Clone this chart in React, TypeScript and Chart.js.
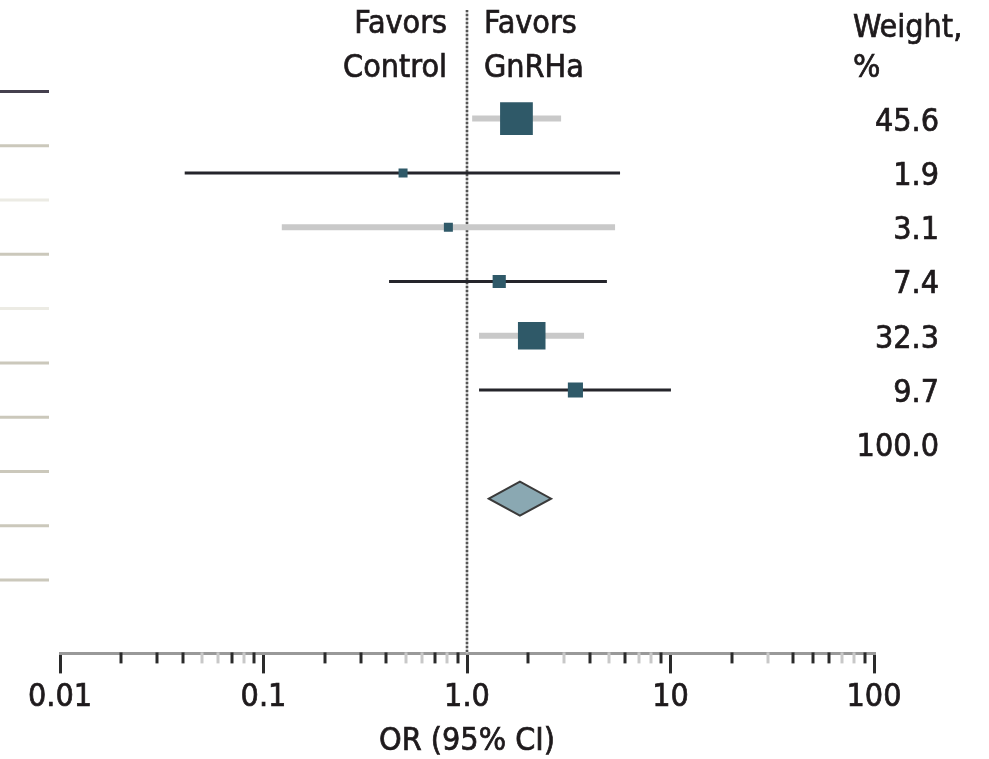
import React, { useEffect, useRef } from 'react';
import { Chart, registerables } from 'chart.js';
Chart.register(...registerables);

// ---- data ----
const oddsRatios = [1.75, 0.485, 0.81, 1.44, 2.08, 3.41];
const ciLower = [1.06, 0.041, 0.123, 0.414, 1.146, 1.146];
const ciUpper = [2.9, 5.65, 5.34, 4.87, 3.76, 10.05];
const weights = [45.6, 1.9, 3.1, 7.4, 32.3, 9.7];
const weightLabels = ['45.6', '1.9', '3.1', '7.4', '32.3', '9.7', '100.0'];
const pooledOR = [1.82];
const pooledLower = [1.28];
const pooledUpper = [2.59];
const majorTicks = [0.01, 0.1, 1, 10, 100];
const tickLabels = ['0.01', '0.1', '1.0', '10', '100'];
const separatorRows = [0.5, 1.5, 2.5, 3.5, 4.5, 5.5, 6.5, 7.5, 8.5, 9.5];
const faintMinor = [0.05, 0.06, 0.08, 0.5, 0.6, 0.8, 3, 5, 7, 8, 30, 70, 80];
const axisTitle = 'OR (95% CI)';

const FONT = '"DejaVu Sans Condensed", "DejaVu Sans", sans-serif';
const FS = 32;
const TEXT = '#1e1a1c';
const MARK = '#2f5968';
const STROKE = 0.7;

function drawText(ctx: CanvasRenderingContext2D, t: string, x: number, y: number) {
  ctx.fillText(t, x, y);
  ctx.strokeText(t, x, y);
}

const forestPlugin = {
  id: 'forest',
  beforeDatasetsDraw(chart: any) {
    const { ctx, chartArea, scales } = chart;
    const x = scales.x, y = scales.y;
    const x1 = x.getPixelForValue(1);
    ctx.save();
    ctx.lineWidth = 2.5;
    ctx.strokeStyle = '#c4c4c4';
    ctx.beginPath();
    ctx.moveTo(x1, chartArea.top);
    ctx.lineTo(x1, chartArea.bottom);
    ctx.stroke();
    ctx.strokeStyle = '#555';
    ctx.setLineDash([2, 2]);
    ctx.stroke();
    ctx.setLineDash([]);
    // left separators
    separatorRows.forEach((r, i) => {
      const py = y.getPixelForValue(r);
      ctx.strokeStyle = i === 0 ? '#45404e' : (i === 2 || i === 4) ? '#ecebe4' : '#cbc8bb';
      ctx.lineWidth = 3;
      ctx.beginPath();
      ctx.moveTo(0, py);
      ctx.lineTo(49, py);
      ctx.stroke();
    });
    ctx.restore();
  },
  afterDatasetsDraw(chart: any) {
    const { ctx, scales } = chart;
    const x = scales.x, y = scales.y;
    const py = y.getPixelForValue(8);
    const xl = x.getPixelForValue(pooledLower[0]);
    const xc = x.getPixelForValue(pooledOR[0]);
    const xr = x.getPixelForValue(pooledUpper[0]);
    const h = 17;
    ctx.save();
    ctx.beginPath();
    ctx.moveTo(xl, py);
    ctx.lineTo(xc, py - h);
    ctx.lineTo(xr, py);
    ctx.lineTo(xc, py + h);
    ctx.closePath();
    ctx.fillStyle = '#8aa8b2';
    ctx.fill();
    ctx.strokeStyle = '#3a3a3a';
    ctx.lineWidth = 2;
    ctx.stroke();
    ctx.restore();
  },
  afterDraw(chart: any) {
    const { ctx, chartArea, scales } = chart;
    const x = scales.x, y = scales.y;
    ctx.save();
    // minor ticks
    [0.01, 0.1, 1, 10].forEach((d) => {
      for (let k = 2; k <= 9; k++) {
        const v = +(d * k).toPrecision(3);
        const px = Math.round(x.getPixelForValue(v));
        ctx.strokeStyle = faintMinor.includes(v) ? '#c8c8c8' : '#2a2a2a';
        ctx.lineWidth = 3;
        ctx.beginPath();
        ctx.moveTo(px, chartArea.bottom - 1);
        ctx.lineTo(px, chartArea.bottom + 10);
        ctx.stroke();
      }
    });
    // texts
    ctx.fillStyle = TEXT;
    ctx.strokeStyle = TEXT;
    ctx.lineWidth = STROKE;
    ctx.font = `${FS}px ${FONT}`;
    ctx.textBaseline = 'alphabetic';
    const x1 = x.getPixelForValue(1);
    ctx.textAlign = 'right';
    drawText(ctx, 'Favors', x1 - 20, 33);
    drawText(ctx, 'Control', x1 - 20, 77);
    ctx.textAlign = 'left';
    drawText(ctx, 'Favors', x1 + 17, 33);
    drawText(ctx, 'GnRHa', x1 + 17, 77);
    drawText(ctx, 'Weight,', 853, 37);
    drawText(ctx, '%', 853, 77);
    ctx.textAlign = 'right';
    weightLabels.forEach((t, i) => {
      drawText(ctx, t, 939, y.getPixelForValue(i + 1) + 12);
    });
    // axis title (space reserved by the scale title)
    ctx.textAlign = 'center';
    ctx.textBaseline = 'middle';
    drawText(ctx, axisTitle, (chartArea.left + chartArea.right) / 2, 742);
    ctx.restore();
  },
};

export default function App() {
  const ref = useRef<HTMLCanvasElement>(null);
  useEffect(() => {
    document.body.style.margin = '0';
    const ciDatasets = oddsRatios.map((_, i) => ({
      type: 'line' as const,
      data: [
        { x: ciLower[i], y: i + 1 },
        { x: ciUpper[i], y: i + 1 },
      ],
      borderColor: i % 2 === 0 ? '#c9c9c9' : '#25252b',
      borderWidth: i % 2 === 0 ? 6 : 3,
      borderCapStyle: 'butt' as const,
      pointRadius: 0,
      showLine: true,
      order: 2,
    }));
    const chart = new Chart(ref.current!, {
      type: 'scatter',
      data: {
        datasets: [
          {
            type: 'scatter',
            data: oddsRatios.map((v, i) => ({ x: v, y: i + 1 })),
            pointStyle: 'rect',
            pointRadius: (c: any) => Math.max(9, 4.85 * Math.sqrt(weights[c.dataIndex] ?? 1)) / Math.SQRT2,
            pointHoverRadius: (c: any) => Math.max(9, 4.85 * Math.sqrt(weights[c.dataIndex] ?? 1)) / Math.SQRT2,
            backgroundColor: MARK,
            borderWidth: 0,
            order: 0,
          } as any,
          ...ciDatasets,
        ],
      },
      options: {
        animation: false,
        responsive: false,
        events: [],
        layout: { autoPadding: false, padding: { left: 60, right: 115, top: 10, bottom: 2 } },
        plugins: { legend: { display: false }, tooltip: { enabled: false } },
        scales: {
          x: {
            type: 'logarithmic',
            min: 0.01,
            max: 100,
            afterBuildTicks: (scale: any) => {
              scale.ticks = majorTicks.map((v) => ({ value: v }));
            },
            border: { display: true, color: '#999999', width: 3 },
            grid: { display: true, drawOnChartArea: false, drawTicks: true, tickLength: 20, color: '#2a2a2a', lineWidth: 3 },
            ticks: {
              autoSkip: false,
              maxRotation: 0,
              padding: 8,
              color: TEXT,
              textStrokeColor: TEXT,
              textStrokeWidth: STROKE,
              font: { family: FONT, size: FS, lineHeight: 1.0 },
              callback: (_v: any, idx: number) => tickLabels[idx],
            },
            title: {
              display: true,
              text: axisTitle,
              color: 'rgba(0,0,0,0)',
              font: { family: FONT, size: FS, lineHeight: 0.8 },
              padding: { top: 10, bottom: 0 },
            },
          },
          y: { type: 'linear', reverse: true, min: -1, max: 10.85, display: false },
        },
      },
      plugins: [forestPlugin],
    });
    return () => chart.destroy();
  }, []);
  return <canvas ref={ref} width={989} height={759} style={{ display: 'block' }} />;
}
